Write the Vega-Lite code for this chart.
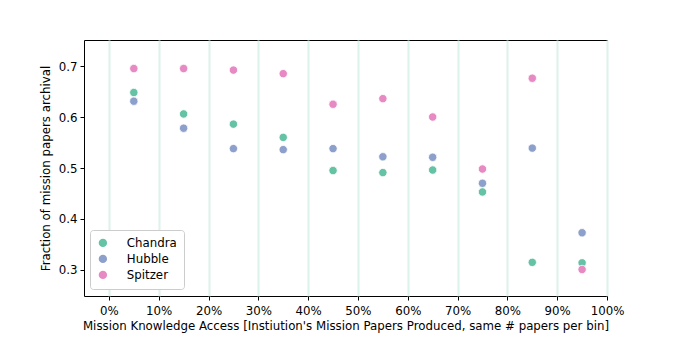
{
  "$schema": "https://vega.github.io/schema/vega-lite/v6.json",
  "autosize": {"type": "none"},
  "padding": {"left": 84, "top": 40, "right": 69, "bottom": 43},
  "width": 523,
  "height": 256,
  "background": "white",
  "config": {
    "font": "DejaVu Sans",
    "view": {"stroke": "black", "strokeWidth": 1},
    "axis": {"labelFont": "DejaVu Sans", "titleFont": "DejaVu Sans", "labelFontSize": 11.8, "titleFontSize": 11.8, "titleFontWeight": "normal", "labelColor": "black", "titleColor": "black", "tickColor": "black", "domain": false, "tickSize": 4, "labelFlush": false}
  },
  "data": {"values": [
    {"bin": 5, "mission": "Chandra", "frac": 0.648},
    {"bin": 5, "mission": "Hubble", "frac": 0.631},
    {"bin": 5, "mission": "Spitzer", "frac": 0.695},
    {"bin": 15, "mission": "Chandra", "frac": 0.606},
    {"bin": 15, "mission": "Hubble", "frac": 0.578},
    {"bin": 15, "mission": "Spitzer", "frac": 0.695},
    {"bin": 25, "mission": "Chandra", "frac": 0.586},
    {"bin": 25, "mission": "Hubble", "frac": 0.538},
    {"bin": 25, "mission": "Spitzer", "frac": 0.692},
    {"bin": 35, "mission": "Chandra", "frac": 0.560},
    {"bin": 35, "mission": "Hubble", "frac": 0.536},
    {"bin": 35, "mission": "Spitzer", "frac": 0.685},
    {"bin": 45, "mission": "Chandra", "frac": 0.495},
    {"bin": 45, "mission": "Hubble", "frac": 0.538},
    {"bin": 45, "mission": "Spitzer", "frac": 0.625},
    {"bin": 55, "mission": "Chandra", "frac": 0.491},
    {"bin": 55, "mission": "Hubble", "frac": 0.522},
    {"bin": 55, "mission": "Spitzer", "frac": 0.636},
    {"bin": 65, "mission": "Chandra", "frac": 0.496},
    {"bin": 65, "mission": "Hubble", "frac": 0.521},
    {"bin": 65, "mission": "Spitzer", "frac": 0.600},
    {"bin": 75, "mission": "Chandra", "frac": 0.453},
    {"bin": 75, "mission": "Hubble", "frac": 0.470},
    {"bin": 75, "mission": "Spitzer", "frac": 0.498},
    {"bin": 85, "mission": "Chandra", "frac": 0.315},
    {"bin": 85, "mission": "Hubble", "frac": 0.539},
    {"bin": 85, "mission": "Spitzer", "frac": 0.676},
    {"bin": 95, "mission": "Chandra", "frac": 0.314},
    {"bin": 95, "mission": "Hubble", "frac": 0.373},
    {"bin": 95, "mission": "Spitzer", "frac": 0.301}
  ]},
  "mark": {"type": "point", "filled": true, "opacity": 1, "size": 70, "stroke": "white", "strokeWidth": 0.8},
  "encoding": {
    "x": {
      "field": "bin", "type": "quantitative",
      "scale": {"domain": [-5, 100], "nice": false, "zero": false},
      "axis": {
        "values": [0, 10, 20, 30, 40, 50, 60, 70, 80, 90, 100],
        "labelExpr": "datum.value + '%'",
        "labelOverlap": false,
        "grid": true, "gridColor": "#dcf2ec", "gridWidth": 2,
        "title": "Mission Knowledge Access [Instiution's Mission Papers Produced, same # papers per bin]",
        "titlePadding": 4, "labelPadding": 5
      }
    },
    "y": {
      "field": "frac", "type": "quantitative",
      "scale": {"domain": [0.249, 0.751], "nice": false, "zero": false},
      "axis": {
        "values": [0.3, 0.4, 0.5, 0.6, 0.7],
        "format": ".1f",
        "grid": false,
        "title": "Fraction of mission papers archival",
        "titlePadding": 7, "labelPadding": 3
      }
    },
    "color": {
      "field": "mission", "type": "nominal",
      "scale": {"domain": ["Chandra", "Hubble", "Spitzer"], "range": ["#66c2a5", "#8da0cb", "#e78ac3"]},
      "legend": {
        "title": null, "orient": "none", "legendX": 6, "legendY": 190,
        "labelFontSize": 11.8, "labelFont": "DejaVu Sans", "labelColor": "black",
        "symbolType": "circle", "symbolSize": 70, "symbolStrokeWidth": 0,
        "fillColor": "white", "strokeColor": "#cccccc", "cornerRadius": 3,
        "padding": 7, "rowPadding": 3, "labelOffset": 18
      }
    }
  }
}
